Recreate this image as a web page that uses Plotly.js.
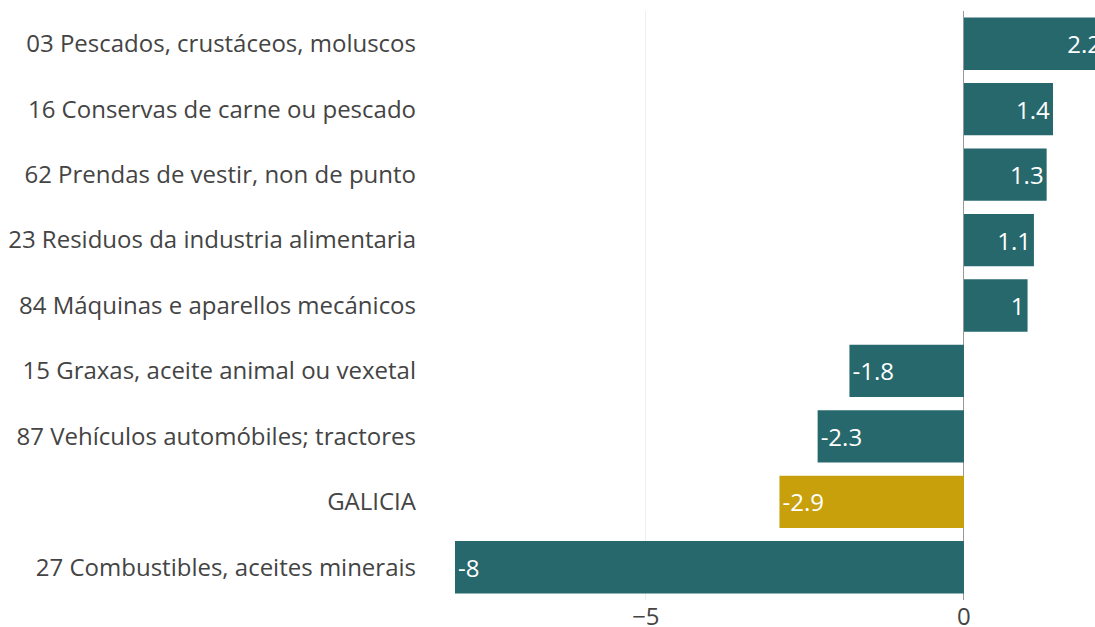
<!DOCTYPE html>
<html>
<head>
<meta charset="utf-8">
<script src="https://cdn.plot.ly/plotly-3.0.1.min.js"></script>
<style>html,body{margin:0;padding:0;background:#fff;}#chart{width:1095px;height:627px;}</style>
</head>
<body>
<div id="chart"></div>
<script>
const categories = [
  "03 Pescados, crustáceos, moluscos",
  "16 Conservas de carne ou pescado",
  "62 Prendas de vestir, non de punto",
  "23 Residuos da industria alimentaria",
  "84 Máquinas e aparellos mecánicos",
  "15 Graxas, aceite animal ou vexetal",
  "87 Vehículos automóbiles; tractores",
  "GALICIA",
  "27 Combustibles, aceites minerais"
];
const values = [2.2, 1.4, 1.3, 1.1, 1, -1.8, -2.3, -2.9, -8];
const highlight = "GALICIA";
const colorMain = "#27686d";
const colorHighlight = "#c8a00c";

const trace = {
  type: "bar",
  orientation: "h",
  y: categories,
  x: values,
  text: values.map(v => String(v)),
  textposition: "inside",
  insidetextanchor: "end",
  textfont: {color: "#ffffff", size: 24, family: "Open Sans"},
  marker: {color: categories.map(c => c === highlight ? colorHighlight : colorMain)},
  hoverinfo: "none",
  cliponaxis: true
};

const layout = {
  width: 1095,
  height: 627,
  margin: {l: 455, r: 0, t: 11, b: 27},
  paper_bgcolor: "#fff",
  plot_bgcolor: "#fff",
  showlegend: false,
  bargap: 0.2,
  font: {family: "Open Sans", size: 24, color: "#444"},
  xaxis: {
    range: [-8, 2.06],
    tickvals: [-5, 0],
    ticktext: ["−5", "0"],
    showgrid: true,
    gridcolor: "#eeeeee",
    zeroline: true,
    zerolinecolor: "#999999",
    zerolinewidth: 1,
    tickfont: {size: 24, color: "#444"},
    fixedrange: true
  },
  yaxis: {
    autorange: "reversed",
    type: "category",
    showgrid: false,
    ticklabelstandoff: 38,
    tickfont: {size: 24, color: "#444"},
    fixedrange: true
  }
};

Plotly.newPlot("chart", [trace], layout, {displayModeBar: false, staticPlot: true});
</script>
</body>
</html>
